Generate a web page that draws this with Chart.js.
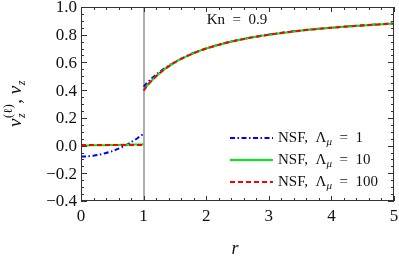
<!DOCTYPE html>
<html><head><meta charset="utf-8">
<script src="https://cdn.jsdelivr.net/npm/chart.js@4"></script>
<style>html,body{margin:0;padding:0;background:#fff}#wrap{width:399px;height:257px}</style>
</head><body><div id="wrap"><canvas id="c" width="399" height="257"></canvas></div>
<script>
// ---- data ----
const rInner = [0, 0.1, 0.2, 0.3, 0.4, 0.5, 0.6, 0.7, 0.8, 0.9, 1.0];
const blueInner  = [-0.080, -0.078, -0.073, -0.065, -0.054, -0.040, -0.022, -0.001, 0.025, 0.053, 0.085];
const greenInner = [0.001, 0.001, 0.002, 0.002, 0.003, 0.004, 0.005, 0.006, 0.007, 0.008, 0.009];
const redInner   = [0.004, 0.004, 0.004, 0.004, 0.004, 0.004, 0.004, 0.004, 0.004, 0.004, 0.004];
const rOuter = [1, 1.05, 1.1, 1.2, 1.3, 1.4, 1.5, 1.6, 1.8, 2, 2.25, 2.5, 2.75, 3, 3.5, 4, 4.5, 5];
const blueOuter  = [0.425, 0.450, 0.472, 0.512, 0.547, 0.576, 0.603, 0.627, 0.668, 0.701, 0.734, 0.761, 0.783, 0.801, 0.830, 0.851, 0.868, 0.882];
const greenOuter = [0.398, 0.429, 0.455, 0.500, 0.539, 0.571, 0.600, 0.625, 0.667, 0.700, 0.733, 0.760, 0.782, 0.800, 0.829, 0.850, 0.867, 0.881];
const redOuter   = [0.396, 0.428, 0.454, 0.500, 0.538, 0.571, 0.600, 0.625, 0.667, 0.700, 0.733, 0.760, 0.782, 0.800, 0.829, 0.850, 0.867, 0.881];
const seriesNames = ['1', '10', '100'];
const xTickLabels = ['0', '1', '2', '3', '4', '5'];
const yTickLabels = ['\u22120.4', '\u22120.2', '0.0', '0.2', '0.4', '0.6', '0.8', '1.0'];
const annotation = 'Kn\u2002=\u20020.9';

function pts(inner, outer){
  const a = rInner.map((r,i)=>({x:r, y:inner[i]}));
  a.push({x:1, y:null});
  return a.concat(rOuter.map((r,i)=>({x:r, y:outer[i]})));
}
const SERIF = '"Liberation Serif"';

const deco = {
  id:'deco',
  beforeDatasetsDraw(chart){
    const {ctx, chartArea:a, scales:{x}} = chart;
    ctx.save();
    ctx.fillStyle = '#8a8a8a';
    const px = Math.round(x.getPixelForValue(1));
    ctx.fillRect(px - 0.7, a.top, 1.4, a.bottom - a.top);
    ctx.restore();
  },
  afterDraw(chart){
    const {ctx, chartArea:a, scales:{x, y}} = chart;
    ctx.save();
    ctx.globalAlpha = 1;
    const L = Math.round(a.left), R = Math.round(a.right), T = Math.round(a.top), B = Math.round(a.bottom);
    ctx.fillStyle = '#333';
    // frame
    ctx.fillRect(L, T, R - L, 1);
    ctx.fillRect(L, B - 1, R - L, 1);
    ctx.fillRect(L, T, 1, B - T);
    ctx.fillRect(R - 1, T, 1, B - T);
    // inward ticks
    for (let i = 0; i <= 25; i++) {
      const p = Math.round(x.getPixelForValue(i * 0.2));
      const len = (i % 5 === 0) ? 5 : 3;
      ctx.fillRect(p, B - len, 1, len);
      ctx.fillRect(p, T, 1, len);
    }
    for (let i = 0; i <= 28; i++) {
      const p = Math.round(y.getPixelForValue(-0.4 + i * 0.05));
      const len = (i % 4 === 0) ? 6 : 3;
      ctx.fillRect(L, p, len, 1);
      ctx.fillRect(R - len, p, len, 1);
    }
    // tick labels from the scales' ticks
    ctx.fillStyle = '#111';
    ctx.font = '17px ' + SERIF;
    ctx.textAlign = 'center'; ctx.textBaseline = 'middle';
    x.ticks.forEach((t) => {
      const i = Math.round(t.value);
      if (Math.abs(t.value - i) < 1e-9 && xTickLabels[i] !== undefined)
        ctx.fillText(xTickLabels[i], x.getPixelForValue(t.value), 217);
    });
    ctx.textAlign = 'right';
    y.ticks.forEach((t) => {
      const i = Math.round((t.value + 0.4) / 0.2);
      if (yTickLabels[i] !== undefined)
        ctx.fillText(yTickLabels[i], 77, y.getPixelForValue(t.value) + 1);
    });
    // annotation
    ctx.font = '15px ' + SERIF; ctx.textAlign = 'center'; ctx.textBaseline = 'middle';
    ctx.fillText(annotation, 237, 20);
    // x title
    ctx.font = 'italic 18px ' + SERIF;
    ctx.fillText('r', 235, 249);
    // y title, rotated
    ctx.translate(16, 104); ctx.rotate(-Math.PI/2);
    ctx.textAlign = 'left'; ctx.textBaseline = 'alphabetic';
    const big = 'italic 19px ' + SERIF, small = 'italic 12px ' + SERIF, smallUp = '12px ' + SERIF, norm = '19px ' + SERIF;
    ctx.font = big; const wv = ctx.measureText('v').width;
    ctx.font = small; const wz = ctx.measureText('z').width;
    ctx.font = smallUp; const wl = ctx.measureText('(\u2113)').width;
    ctx.font = norm; const wc = ctx.measureText(', ').width;
    const total = wv + Math.max(wz, wl) + 1 + wc + wv + wz;
    let cx = -total/2;
    const base = 5;
    ctx.font = big; ctx.fillText('v', cx, base); cx += wv;
    ctx.font = small; ctx.fillText('z', cx + 0.5, base + 4);
    ctx.font = smallUp; ctx.fillText('(\u2113)', cx + 0.5, base - 9);
    cx += Math.max(wz, wl) + 1;
    ctx.font = norm; ctx.fillText(', ', cx, base); cx += wc;
    ctx.font = big; ctx.fillText('v', cx, base); cx += wv;
    ctx.font = small; ctx.fillText('z', cx + 0.5, base + 4);
    ctx.restore();
    // legend
    ctx.save();
    const rows = [138, 160, 182];
    chart.data.datasets.forEach((ds, i) => {
      const yy = rows[i];
      ctx.strokeStyle = ds.borderColor; ctx.lineWidth = ds.borderWidth;
      ctx.setLineDash(ds.borderDash || []);
      ctx.beginPath(); ctx.moveTo(230, yy); ctx.lineTo(273, yy); ctx.stroke();
      ctx.setLineDash([]);
      ctx.fillStyle = '#111'; ctx.textBaseline = 'middle'; ctx.textAlign = 'left';
      let tx = 278;
      ctx.font = '15px ' + SERIF;
      const t1 = 'NSF,\u2002\u039B';
      ctx.fillText(t1, tx, yy); tx += ctx.measureText(t1).width;
      ctx.font = 'italic 11px ' + SERIF;
      ctx.fillText('\u03BC', tx, yy + 4); tx += ctx.measureText('\u03BC').width;
      ctx.font = '15px ' + SERIF;
      ctx.fillText('\u2002=\u2002' + seriesNames[i], tx, yy);
    });
    ctx.restore();
  }
};

new Chart(document.getElementById('c'), {
  type: 'line',
  data: {
    datasets: [
      { label: 'NSF, \u039B\u03BC = 1', data: pts(blueInner, blueOuter), borderColor: '#0000ff', borderWidth: 2, borderDash: [5, 2.5, 1.5, 2.5], order: 2 },
      { label: 'NSF, \u039B\u03BC = 10', data: pts(greenInner, greenOuter), borderColor: '#00ee00', borderWidth: 2, order: 1 },
      { label: 'NSF, \u039B\u03BC = 100', data: pts(redInner, redOuter), borderColor: '#ff0000', borderWidth: 2, borderDash: [5, 3], order: 0 }
    ]
  },
  options: {
    responsive: false, animation: false, devicePixelRatio: 1,
    parsing: true, spanGaps: false,
    elements: { point: { radius: 0 }, line: { tension: 0.3, fill: false } },
    layout: { padding: { left: 0, right: 5, top: 7, bottom: 0 } },
    plugins: { legend: { display: false }, tooltip: { enabled: false } },
    scales: {
      x: {
        type: 'linear', min: 0, max: 5,
        grid: { display: false, drawTicks: false }, border: { display: false },
        ticks: { stepSize: 1, display: false },
        afterFit: (s) => { s.height = 56; s.paddingLeft = 0; s.paddingRight = 0; }
      },
      y: {
        type: 'linear', min: -0.4, max: 1.0,
        grid: { display: false, drawTicks: false }, border: { display: false },
        ticks: { stepSize: 0.2, display: false },
        afterFit: (s) => { s.width = 81; s.paddingTop = 0; s.paddingBottom = 0; }
      }
    }
  },
  plugins: [deco]
});
</script>
</body></html>
